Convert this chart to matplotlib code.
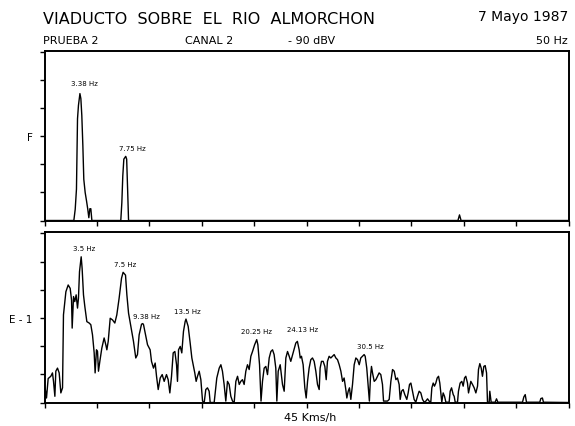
import numpy as np
import matplotlib.pyplot as plt

# Espectro superior (F): frecuencia en Hz y amplitud relativa
freq_f = [0.0, 2.80, 2.93, 3.05, 3.15, 3.24, 3.38, 3.47, 3.56, 3.66, 3.75, 3.88, 4.01,
          4.13, 4.23, 4.33, 4.42, 4.52, 7.28, 7.38, 7.47, 7.57, 7.75, 7.84, 7.93, 8.02,
          39.45, 39.6, 39.75, 50.0]
amp_f = [0.0, 0.0, 0.40, 1.12, 3.63, 4.11, 4.53, 4.35, 3.75, 2.67, 1.47, 1.00, 0.70,
         0.40, 0.10, 0.42, 0.42, 0.0, 0.0, 0.64, 1.59, 2.19, 2.29, 2.19, 1.12, 0.0,
         0.0, 0.20, 0.0, 0.0]

# Espectro inferior (E-1)
freq_e = [0.0, 0.06, 0.19, 0.35, 0.60, 0.76, 0.86, 0.99, 1.08, 1.24, 1.40, 1.56, 1.72,
          1.81, 2.04, 2.26, 2.45, 2.58, 2.64, 2.77, 2.89, 3.02, 3.15, 3.24, 3.34, 3.50,
          3.59, 3.72, 3.85, 4.04, 4.26, 4.42, 4.58, 4.74, 4.83, 4.96, 5.06, 5.15, 5.28,
          5.47, 5.69, 5.85, 5.95, 6.08, 6.27, 6.49, 6.71, 6.90, 7.12, 7.35, 7.50, 7.73,
          7.86, 8.02, 8.24, 8.49, 8.71, 8.87, 9.03, 9.26, 9.38, 9.45, 9.64, 9.83, 10.08,
          10.21, 10.40, 10.56, 10.69, 10.85, 11.04, 11.23, 11.42, 11.64, 11.80, 11.96,
          12.12, 12.28, 12.44, 12.60, 12.69, 12.79, 12.95, 13.10, 13.26, 13.42, 13.50,
          13.71, 13.90, 14.06, 14.22, 14.34, 14.47, 14.60, 14.76, 14.92, 15.08, 15.24,
          15.39, 15.55, 15.71, 15.81, 16.19, 16.44, 16.67, 16.83, 16.98, 17.14, 17.30,
          17.46, 17.62, 17.78, 17.94, 18.10, 18.26, 18.42, 18.58, 18.73, 18.89, 19.05,
          19.21, 19.37, 19.53, 19.69, 19.85, 20.05, 20.25, 20.36, 20.52, 20.66, 20.80,
          20.96, 21.12, 21.28, 21.44, 21.60, 21.76, 21.91, 22.07, 22.17, 22.30, 22.49,
          22.71, 22.87, 23.03, 23.19, 23.35, 23.50, 23.76, 23.98, 24.13, 24.30, 24.40,
          24.52, 24.68, 24.84, 24.97, 25.10, 25.25, 25.41, 25.57, 25.73, 25.89, 26.05,
          26.21, 26.30, 26.43, 26.59, 26.75, 26.88, 27.00, 27.16, 27.32, 27.48, 27.64,
          27.80, 27.96, 28.12, 28.28, 28.44, 28.59, 28.75, 28.85, 28.98, 29.10, 29.23,
          29.39, 29.55, 29.71, 29.87, 30.03, 30.18, 30.50, 30.60, 30.75, 30.90, 31.00,
          31.10, 31.20, 31.30, 31.46, 31.62, 31.78, 31.93, 32.09, 32.25, 32.35, 32.73,
          32.89, 33.05, 33.21, 33.37, 33.53, 33.68, 33.84, 33.94, 34.07, 34.22, 34.38,
          34.57, 34.70, 34.83, 34.96, 35.12, 35.27, 35.43, 35.59, 35.75, 35.91, 36.07,
          36.23, 36.39, 36.55, 36.70, 36.86, 36.96, 37.09, 37.21, 37.34, 37.47, 37.60,
          37.72, 37.82, 37.91, 38.04, 38.17, 38.30, 38.61, 38.71, 38.84, 39.00, 39.09,
          39.19, 39.41, 39.50, 39.66, 39.82, 39.95, 40.08, 40.20, 40.36, 40.46, 40.59,
          40.68, 40.84, 41.00, 41.16, 41.32, 41.41, 41.54, 41.67, 41.79, 41.92, 42.05,
          42.18, 42.27, 42.43, 42.49, 42.62, 43.00, 43.13, 43.26, 45.61, 45.74, 45.87,
          45.99, 47.26, 47.36, 47.51, 47.61, 50.0]
amp_e = [0.0, 0.52, 0.16, 0.85, 0.93, 1.05, 0.75, 0.22, 1.11, 1.22, 1.05, 0.34, 0.52,
         3.11, 3.93, 4.17, 4.05, 3.64, 2.64, 3.76, 3.58, 3.82, 3.35, 3.70, 4.64, 5.17,
         4.76, 3.82, 3.40, 2.87, 2.82, 2.76, 2.40, 1.76, 1.05, 1.87, 1.81, 1.11, 1.46,
         1.93, 2.29, 2.05, 1.87, 2.17, 2.99, 2.93, 2.82, 3.11, 3.70, 4.41, 4.62, 4.52,
         3.82, 3.17, 2.70, 2.17, 1.58, 1.70, 2.40, 2.78, 2.80, 2.76, 2.40, 2.05, 1.87,
         1.46, 1.22, 1.40, 0.93, 0.46, 0.87, 0.99, 0.75, 0.99, 0.81, 0.34,
         0.93, 1.76, 1.81, 1.34, 0.75, 1.87, 1.99, 1.76, 2.52, 2.87, 2.96,
         2.70, 2.11, 1.58, 1.28, 1.05, 0.75, 0.93, 1.11, 0.81, 0.05, 0.0,
         0.46, 0.52, 0.40, 0.0, 0.0, 0.87, 1.22, 1.34, 1.11, 0.64, 0.05,
         0.75, 0.64, 0.22, 0.05, 0.0, 0.75, 0.93, 0.64, 0.75, 0.81, 0.64,
         1.11, 1.34, 1.17, 1.64, 1.81, 2.05, 2.23, 2.05, 1.34, 0.05, 0.75,
         1.22, 1.28, 0.99, 1.58, 1.81, 1.87, 1.70, 1.22, 0.05, 1.11, 1.34,
         0.64, 0.40, 1.58, 1.81, 1.64, 1.46, 1.81, 2.11, 2.17, 1.87, 1.58,
         1.64, 1.34, 0.52, 0.16, 0.75, 1.22, 1.52, 1.58, 1.46, 1.11, 0.64,
         0.46, 1.22, 1.46, 1.46, 1.28, 0.81, 1.46, 1.64, 1.58, 1.64, 1.70,
         1.58, 1.52, 1.34, 1.11, 0.75, 0.87, 0.46, 0.16, 0.40, 0.52, 0.11,
         0.64, 1.34, 1.58, 1.52, 1.34, 1.58, 1.70, 1.64, 1.22, 0.52, 0.05,
         0.87, 1.28, 1.05, 0.75, 0.81, 0.93, 1.05, 0.99, 0.64, 0.05, 0.05,
         0.11, 0.75, 1.17, 1.11, 0.81, 0.87, 0.64, 0.11, 0.40, 0.46, 0.28,
         0.11, 0.34, 0.64, 0.69, 0.40, 0.11, 0.01, 0.22, 0.40, 0.34, 0.11,
         0.01, 0.05, 0.13, 0.05, 0.01, 0.52, 0.69, 0.58, 0.69, 0.87, 0.93,
         0.69, 0.34, 0.01, 0.34, 0.22, 0.01, 0.01, 0.40, 0.52, 0.28, 0.22,
         0.01, 0.01, 0.40, 0.69, 0.75, 0.58, 0.87, 0.93, 0.69, 0.34, 0.58,
         0.75, 0.64, 0.52, 0.34, 0.58, 1.17, 1.38, 1.22, 0.93, 1.28, 1.31,
         1.05, 0.01, 0.01, 0.40, 0.01, 0.01, 0.13, 0.01, 0.01, 0.20, 0.28,
         0.01, 0.01, 0.14, 0.16, 0.01, 0.0]

peaks_f = [3.38, 7.75]
peaks_e = [3.5, 7.5, 9.38, 13.5, 20.25, 24.13, 30.5]

# desplazamiento de cada rotulo respecto a su pico (puntos)
offs_f = [(3.5, 5.5), (5.0, 3.5)]
offs_e = [(2.0, 4.5), (1.5, 3.5), (2.5, 3.5), (1.0, 4.0), (0.0, 4.0), (4.0, 7.0), (4.5, 4.0)]

plt.rcParams['font.family'] = 'DejaVu Sans'
fig = plt.figure(figsize=(5.75, 4.27), dpi=100)

ax1 = fig.add_axes([44.5/575, 1 - 221.5/427, 524/575, 169.5/427])
ax2 = fig.add_axes([44.5/575, 1 - 403.5/427, 524/575, 170.5/427])


def panel(ax, f, a, peaks, offs, ylab):
    ax.plot(f, a, color='black', lw=1.0)
    ax.set_xlim(0, 50)
    ax.set_ylim(0, 6.05)
    ax.set_xticks(np.arange(0, 51, 5))
    ax.set_xticklabels([])
    ax.set_yticks(np.arange(0, 7))
    ax.set_yticklabels(['', '', '', ylab, '', '', ''], fontsize=7.5)
    ax.tick_params(direction='out', length=3.5, width=1.0, pad=5)
    for s in ax.spines.values():
        s.set_linewidth(1.4)
    for hz, (dx, dy) in zip(peaks, offs):
        amp = a[f.index(hz)]
        ax.annotate(f"{hz:g} Hz", (hz, amp), xytext=(dx, dy), textcoords='offset points',
                    ha='center', va='bottom', fontsize=5)


panel(ax1, freq_f, amp_f, peaks_f, offs_f, 'F')
panel(ax2, freq_e, amp_e, peaks_e, offs_e, 'E - 1')

# cabecera y pie
fig.text(43/575, 1 - 23.5/427, 'VIADUCTO  SOBRE  EL  RIO  ALMORCHON', fontsize=11.5, va='baseline')
fig.text(568/575, 1 - 21.5/427, '7 Mayo 1987', fontsize=10, ha='right', va='baseline')
fig.text(43/575, 1 - 43.5/427, 'PRUEBA 2', fontsize=8, va='baseline')
fig.text(185/575, 1 - 43.5/427, 'CANAL 2', fontsize=8, va='baseline')
fig.text(288/575, 1 - 43.5/427, '- 90 dBV', fontsize=8, va='baseline')
fig.text(568/575, 1 - 43.5/427, '50 Hz', fontsize=8, ha='right', va='baseline')
fig.text(310/575, 1 - 421/427, '45 Kms/h', fontsize=8, ha='center', va='baseline')

fig.savefig('out.png', dpi=100)
